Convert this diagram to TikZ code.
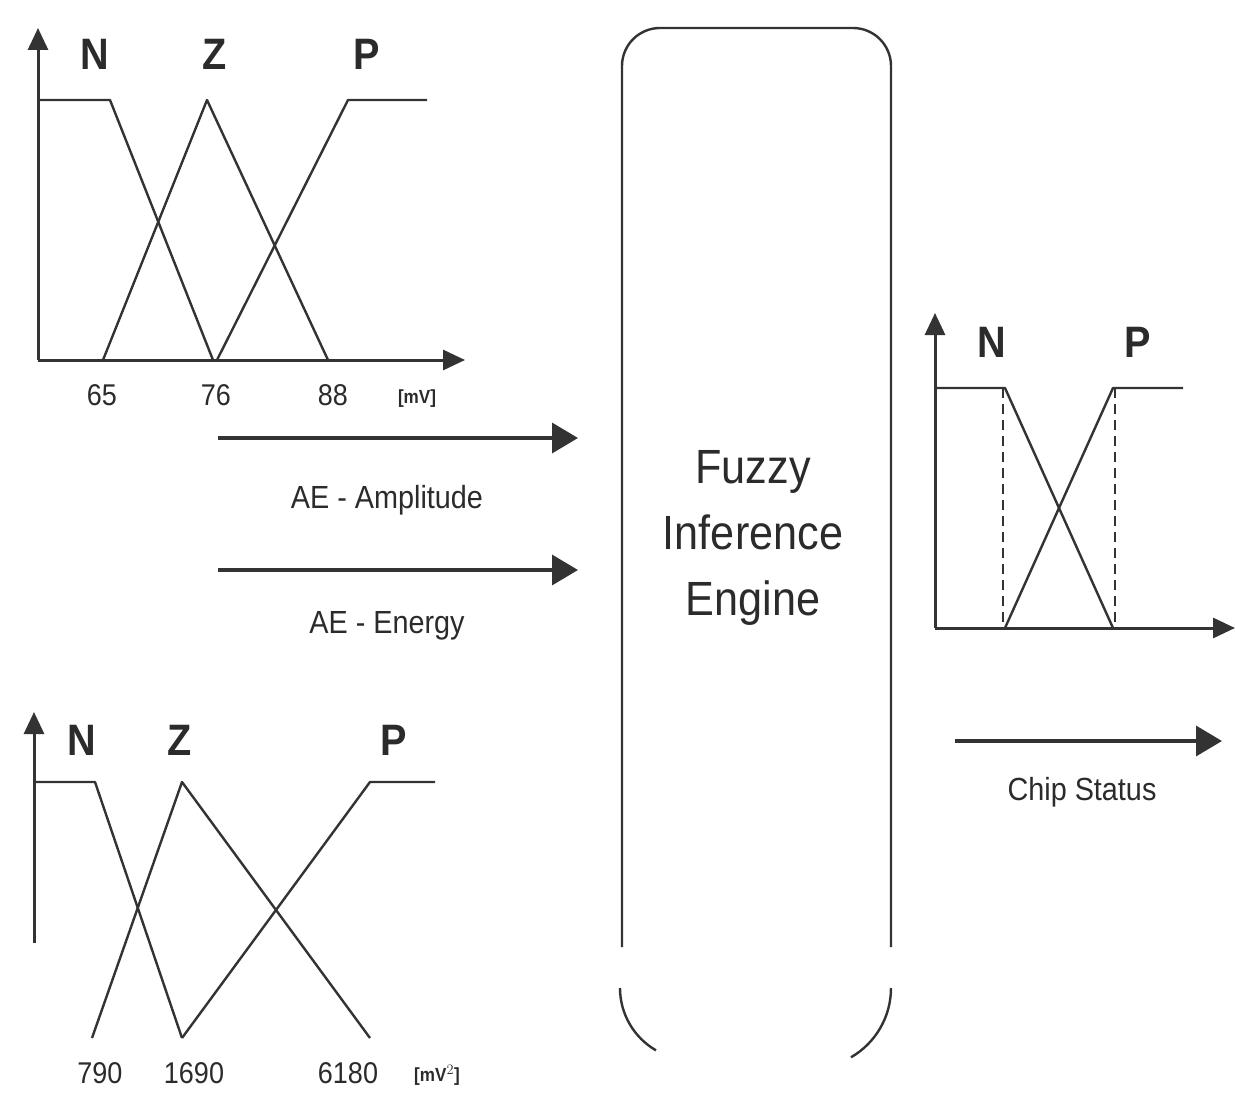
\documentclass[tikz,border=0pt]{standalone}
\usepackage{fontspec}
\newfontfamily\figfont[FakeStretch=0.9]{Liberation Sans}
\usepackage{tikz}
\usetikzlibrary{arrows.meta,positioning}
\definecolor{ink}{HTML}{2B2B2B}
\definecolor{line}{HTML}{333333}

\begin{document}
\begin{tikzpicture}[x=1pt, y=-1pt,
  every node/.append style={font=\figfont, text=ink, inner sep=0pt},
  axis/.style={draw=line, line width=3pt, -{Triangle[length=22pt, width=20pt]}},
  mf/.style={draw=line, line width=2.4pt, line join=round},
  flow/.style={draw=line, line width=3.5pt, -{Triangle[length=26pt, width=30pt]}},
  term/.style={font=\figfont\bfseries\fontsize{44}{44}\selectfont, anchor=base},
  tick/.style={font=\figfont\fontsize{30}{30}\selectfont, anchor=base},
  unit/.style={font=\figfont\bfseries\fontsize{19}{19}\selectfont, anchor=base},
  flowlbl/.style={font=\figfont\fontsize{32}{32}\selectfont, anchor=base},
  cut/.style={draw=line, line width=2.6pt, dash pattern=on 10pt off 6pt}]
\useasboundingbox (0,0) rectangle (1235,1094);
\fill[white] (0,0) rectangle (1235,1094);

% AE amplitude
\coordinate (ampO) at (38,360);
\draw[axis] (ampO) -- (38,28);
\draw[axis] (ampO) -- (465,360);
\draw[mf] (38,100) -- (110,100) -- (213,360);
\draw[mf] (103,360) -- (207,100) -- (328,360);
\draw[mf] (217,360) -- (348,100) -- (427,100);
\node[term] (ampN) at (95,70) {N};
\node[term] (ampZ) at (215,70) {Z};
\node[term] (ampP) at (367,70) {P};
\node[tick] (amp65) at (102,405) {65};
\node[tick] (amp76) at (216,405) {76};
\node[tick] (amp88) at (333,405) {88};
\node[unit] (ampU) at (417,403) {[mV]};

% AE energy
\coordinate (engO) at (34,943);
\draw[axis] (engO) -- (34,712);
\draw[mf] (34,782) -- (95,782) -- (182,1038);
\draw[mf] (92,1038) -- (182,782) -- (370,1038);
\draw[mf] (182,1038) -- (370,782) -- (435,782);
\node[term] (engN) at (82,755) {N};
\node[term] (engZ) at (180,755) {Z};
\node[term] (engP) at (394,755) {P};
\node[tick] (eng790) at (100,1083) {790};
\node[tick] (eng1690) at (194,1083) {1690};
\node[tick] (eng6180) at (348,1083) {6180};
\node[unit] (engU) at (437,1081) {[mV$^2$]};

% inference engine
\draw[draw=line, line width=2.4pt, rounded corners=38pt]
  (622,947) -- (622,28) -- (891,28) -- (891,947);
\draw[draw=line, line width=2.4pt] (620,988) arc[start angle=180, end angle=120, radius=72];
\draw[draw=line, line width=2.4pt] (891,988) arc[start angle=0, end angle=60, radius=80];
\node[align=center, font=\figfont\fontsize{48}{66}\selectfont] (engine) at (753,538)
  {Fuzzy\\Inference\\Engine};

% inputs
\coordinate (ampA) at (218,438);
\coordinate (ampB) at (578,438);
\coordinate (enA) at (218,570);
\coordinate (enB) at (578,570);
\draw[flow] (ampA) -- (ampB);
\draw[flow] (enA) -- (enB);
\node[flowlbl] (ampL) at (387,508) {AE - Amplitude};
\node[flowlbl] (enL) at (387,633) {AE - Energy};

% chip status
\coordinate (chipO) at (935,628);
\draw[axis] (chipO) -- (935,313);
\draw[axis] (chipO) -- (1235,628);
\draw[mf] (935,388) -- (1005,388) -- (1113,628);
\draw[mf] (1005,628) -- (1113,388) -- (1183,388);
\draw[cut] (1003,388) -- (1003,628);
\draw[cut] (1115,388) -- (1115,628);
\node[term] (chipN) at (992,357) {N};
\node[term] (chipP) at (1138,357) {P};
\coordinate (outA) at (955,741);
\coordinate (outB) at (1222,741);
\draw[flow] (outA) -- (outB);
\node[flowlbl] (outL) at (1082,800) {Chip Status};
\end{tikzpicture}
\end{document}
